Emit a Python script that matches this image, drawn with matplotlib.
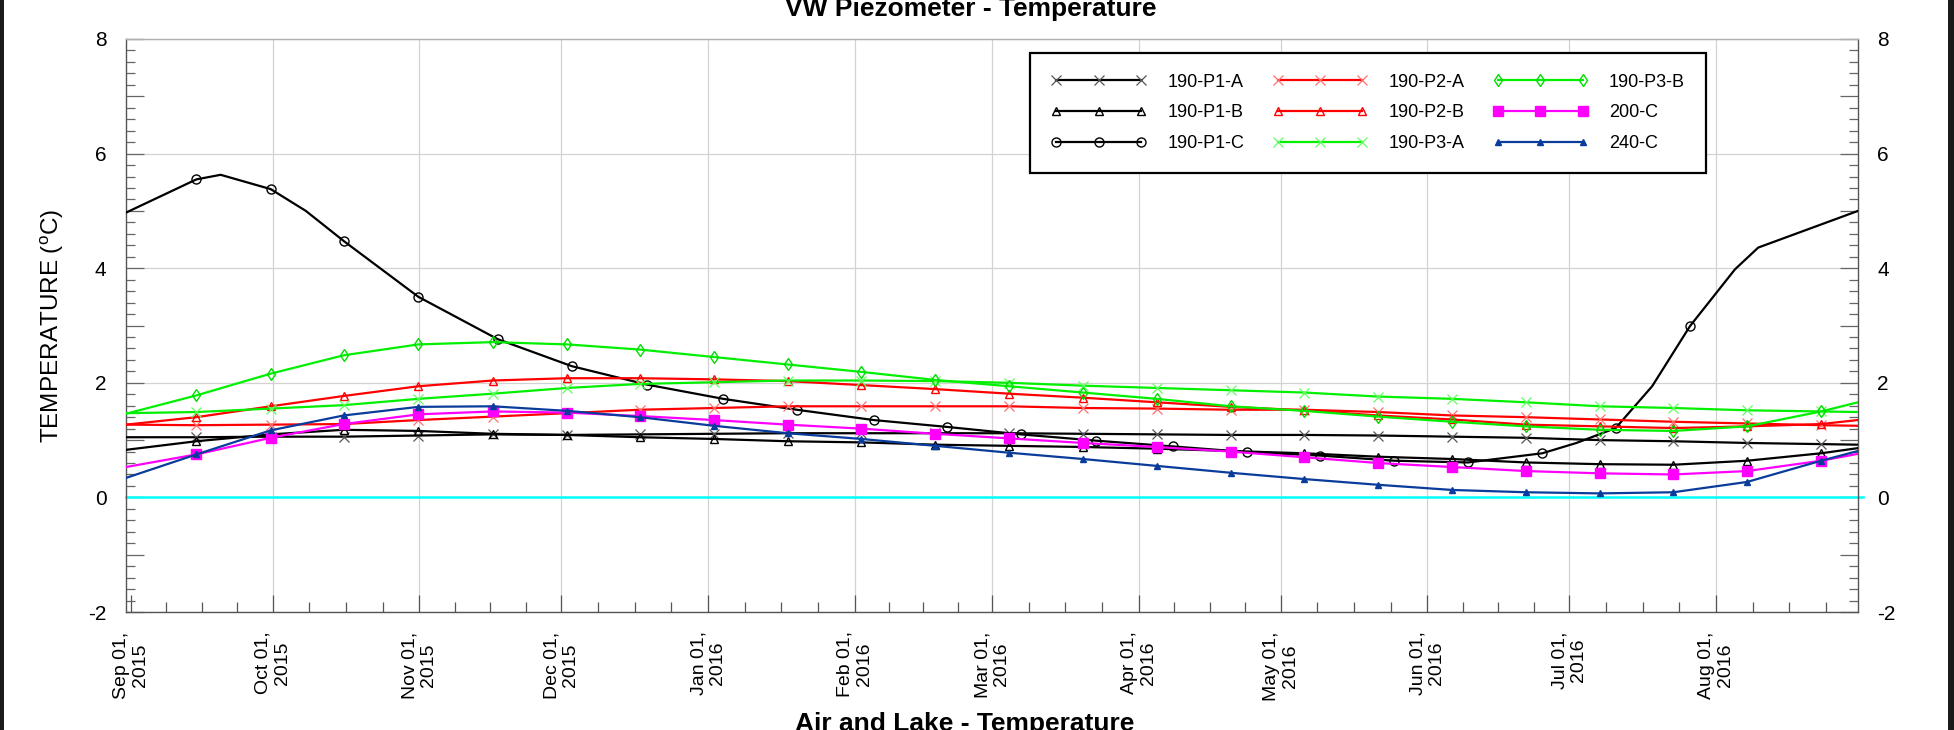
import matplotlib
matplotlib.use('Agg')
import matplotlib.pyplot as plt
import matplotlib.dates as mdates
import matplotlib.ticker as mticker
from matplotlib.patches import Rectangle
import numpy as np
import pandas as pd

plt.rcParams['font.family'] = ['Liberation Sans', 'DejaVu Sans']
plt.rcParams['mathtext.fontset'] = 'custom'
plt.rcParams['mathtext.rm'] = 'Liberation Sans'

# ---------------- data ----------------
start_date = '2015-08-31 00:00'
end_date = '2016-08-31 00:00'

marker_dates = ['2015-09-14 21:00', '2015-09-30 14:00', '2015-10-16 00:00', '2015-10-31 19:00',
                '2015-11-16 12:00', '2015-12-02 05:00', '2015-12-17 14:00', '2016-01-02 05:00',
                '2016-01-17 19:00', '2016-02-02 10:00', '2016-02-18 00:00', '2016-03-04 14:00',
                '2016-03-20 05:00', '2016-04-04 19:00', '2016-04-20 10:00', '2016-05-06 00:00',
                '2016-05-21 14:00', '2016-06-06 05:00', '2016-06-21 19:00', '2016-07-07 10:00',
                '2016-07-23 00:00', '2016-08-07 14:00', '2016-08-23 05:00']

# values: [start] + 23 marker values + [end]
p1a = [1.05, 1.05, 1.06, 1.06, 1.08, 1.10, 1.09, 1.10, 1.11, 1.12, 1.12, 1.12, 1.12, 1.11, 1.10,
       1.09, 1.09, 1.08, 1.06, 1.04, 1.00, 0.98, 0.95, 0.93, 0.92]
p1b = [0.83, 0.98, 1.10, 1.18, 1.16, 1.11, 1.09, 1.05, 1.02, 0.98, 0.96, 0.92, 0.90, 0.88, 0.85,
       0.81, 0.77, 0.71, 0.67, 0.61, 0.58, 0.57, 0.64, 0.77, 0.86]
p2a = [1.27, 1.26, 1.27, 1.28, 1.35, 1.41, 1.47, 1.53, 1.56, 1.59, 1.59, 1.59, 1.59, 1.56, 1.55,
       1.53, 1.53, 1.49, 1.43, 1.40, 1.36, 1.32, 1.29, 1.26, 1.25]
p2b = [1.27, 1.40, 1.59, 1.77, 1.94, 2.04, 2.08, 2.08, 2.06, 2.03, 1.96, 1.89, 1.81, 1.74, 1.66,
       1.58, 1.52, 1.43, 1.36, 1.27, 1.24, 1.21, 1.24, 1.28, 1.35]
p3a = [1.47, 1.49, 1.55, 1.61, 1.72, 1.81, 1.91, 1.98, 2.01, 2.04, 2.04, 2.03, 2.00, 1.95, 1.91,
       1.87, 1.83, 1.76, 1.72, 1.66, 1.59, 1.56, 1.52, 1.50, 1.49]
p3b = [1.46, 1.78, 2.16, 2.48, 2.67, 2.71, 2.67, 2.58, 2.45, 2.32, 2.19, 2.05, 1.94, 1.83, 1.72,
       1.59, 1.51, 1.41, 1.32, 1.24, 1.18, 1.16, 1.24, 1.50, 1.66]
c200 = [0.53, 0.75, 1.04, 1.28, 1.45, 1.50, 1.48, 1.42, 1.35, 1.27, 1.20, 1.11, 1.03, 0.95, 0.88,
        0.80, 0.70, 0.60, 0.53, 0.46, 0.42, 0.40, 0.46, 0.64, 0.76]
c240 = [0.34, 0.75, 1.17, 1.43, 1.58, 1.59, 1.51, 1.40, 1.25, 1.12, 1.02, 0.90, 0.78, 0.67, 0.55,
        0.43, 0.32, 0.22, 0.13, 0.09, 0.07, 0.09, 0.27, 0.64, 0.81]

# 190-P1-C: marker (circle) readings
p1c_marker_dates = ['2015-09-14 21:00', '2015-09-30 14:00', '2015-10-16 02:00', '2015-10-31 19:00',
                    '2015-11-17 14:00', '2015-12-03 05:00', '2015-12-19 00:00', '2016-01-04 05:00',
                    '2016-01-19 17:00', '2016-02-05 00:00', '2016-02-20 12:00', '2016-03-07 02:00',
                    '2016-03-23 00:00', '2016-04-08 05:00', '2016-04-23 22:00', '2016-05-09 07:00',
                    '2016-05-25 00:00', '2016-06-09 14:00', '2016-06-25 07:00', '2016-07-10 19:00',
                    '2016-07-26 12:00']
p1c_marker_vals = [5.55, 5.38, 4.47, 3.50, 2.76, 2.29, 1.97, 1.72, 1.53, 1.35, 1.23, 1.10, 0.99,
                   0.89, 0.79, 0.73, 0.64, 0.61, 0.77, 1.21, 2.99]
# 190-P1-C: extra curve readings (no marker)
p1c_curve_dates = ['2015-08-31 00:00', '2015-09-20 00:00', '2015-10-08 00:00', '2016-07-02 12:00',
                   '2016-07-18 12:00', '2016-08-05 00:00', '2016-08-09 22:00', '2016-08-31 00:00']
p1c_curve_vals = [4.97, 5.63, 5.00, 0.95, 1.94, 3.98, 4.36, 5.00]

zero_dates = ['2015-08-31 00:00', '2016-09-01 00:00']
zero_vals = [0.0, 0.0]

series = [
    ('190-P1-A', p1a, dict(color='#000000', marker='x', mec='#555555', mfc='none', ms=6.5, mew=0.9)),
    ('190-P1-B', p1b, dict(color='#000000', marker='^', mec='#000000', mfc='none', ms=6, mew=1.0)),
    ('190-P1-C', None, dict(color='#000000', marker='o', mec='#000000', mfc='none', ms=6.5, mew=1.0)),
    ('190-P2-A', p2a, dict(color='#ff0000', marker='x', mec='#ff7070', mfc='none', ms=6.5, mew=0.9)),
    ('190-P2-B', p2b, dict(color='#ff0000', marker='^', mec='#ff0000', mfc='none', ms=6, mew=1.0)),
    ('190-P3-A', p3a, dict(color='#00f000', marker='x', mec='#60ff60', mfc='none', ms=6.5, mew=0.9)),
    ('190-P3-B', p3b, dict(color='#00f000', marker='d', mec='#00dd00', mfc='none', ms=6, mew=1.0)),
    ('200-C', c200, dict(color='#ff00ff', marker='s', mec='#ff00ff', mfc='#ff00ff', ms=6.5, mew=1.0)),
    ('240-C', c240, dict(color='#0a3c9c', marker='^', mec='#0a3c9c', mfc='#0a3c9c', ms=5, mew=1.0)),
]


def to_dt(lst):
    return pd.to_datetime(lst, format='%Y-%m-%d %H:%M')


# ---------------- figure ----------------
fig = plt.figure(figsize=(19.54, 7.30), dpi=100)
ax = fig.add_axes([126 / 1954, 1 - 612 / 730, (1858 - 126) / 1954, (612 - 39) / 730])

common_x = to_dt([start_date] + marker_dates + [end_date])

# grid
for m in pd.date_range('2015-10-01', '2016-08-01', freq='MS'):
    ax.axvline(m, color='#d2d2d2', lw=0.9, zorder=0)
for yv in range(-2, 9, 2):
    ax.axhline(yv, color='#d2d2d2', lw=0.9, zorder=0)

ax.plot(to_dt(zero_dates), zero_vals, color='#00ffff', lw=1.8, zorder=2, clip_on=False)

handles = []
for name, vals, st in series:
    if vals is None:
        cd = to_dt(p1c_curve_dates + p1c_marker_dates)
        cv = np.array(p1c_curve_vals + p1c_marker_vals)
        order = np.argsort(cd.values)
        xs = cd[order]
        ys = cv[order]
        mk_set = set(to_dt(p1c_marker_dates))
        me = [i for i, d in enumerate(xs) if d in mk_set]
        ln, = ax.plot(xs, ys, lw=1.6, markevery=me, label=name, zorder=3, **st)
    else:
        ln, = ax.plot(common_x, vals, lw=1.6, markevery=list(range(1, len(vals) - 1)),
                      label=name, zorder=3, **st)
    handles.append(ln)

ax.set_xlim(pd.Timestamp(start_date), pd.Timestamp(end_date))
ax.set_ylim(-2, 8)

# x ticks
ax.xaxis.set_major_locator(mdates.MonthLocator())
ax.xaxis.set_major_formatter(mticker.FuncFormatter(
    lambda v, p: mdates.num2date(v).strftime('%b %d,\n%Y')))
minor_pos = []
for m in pd.date_range('2015-09-01', '2016-08-01', freq='MS'):
    nd = m.days_in_month
    for k in range(1, 4):
        minor_pos.append(mdates.date2num(m + pd.Timedelta(days=nd * k / 4)))
ax.xaxis.set_minor_locator(mticker.FixedLocator(minor_pos))
ax.tick_params(axis='x', which='major', direction='in', length=12, width=0.9, color='#555555',
               labelsize=14, pad=14, top=False, bottom=True, labelrotation=90)
ax.tick_params(axis='x', which='minor', direction='in', length=7, width=0.9, color='#555555',
               top=False, bottom=True)

# y ticks
ax.yaxis.set_major_locator(mticker.MultipleLocator(1))
ax.yaxis.set_minor_locator(mticker.MultipleLocator(0.2))
ax.yaxis.set_major_formatter(mticker.FuncFormatter(
    lambda v, p: f'{int(round(v))}' if int(round(v)) % 2 == 0 else ''))
ax.tick_params(axis='y', which='major', direction='in', length=13, width=0.9, color='#666666',
               labelsize=15, pad=14, left=True, right=True, labelleft=True, labelright=True)
ax.tick_params(axis='y', which='minor', direction='in', length=6.5, width=0.9, color='#666666',
               left=True, right=True)

for s in ['left', 'right', 'bottom']:
    ax.spines[s].set_color('#555555')
    ax.spines[s].set_linewidth(1.0)
ax.spines['top'].set_color('#b0b0b0')
ax.spines['top'].set_linewidth(1.0)

ax.set_ylabel('TEMPERATURE ($\\mathregular{^o}$C)', fontsize=17.5, labelpad=16)

leg = ax.legend(handles=handles, ncol=3, loc='upper left',
                bbox_to_anchor=((1030 - 126) / 1732, (612 - 53) / 573),
                fontsize=13, numpoints=3, handlelength=5.3, handletextpad=1.15,
                columnspacing=1.55, labelspacing=0.75, borderpad=1.15,
                fancybox=False, frameon=True, borderaxespad=0, framealpha=1)
leg.get_frame().set_edgecolor('#000000')
leg.get_frame().set_linewidth(1.6)
leg.set_zorder(5)

fig.canvas.draw()
for lab in ax.get_xticklabels():
    lab.set_multialignment('center')
    lab.set_linespacing(1.15)

fig.text(971 / 1954, 1 - 16 / 730, 'VW Piezometer - Temperature', ha='center', va='baseline',
         fontsize=19, fontweight='bold')
fig.text(964.5 / 1954, -0.001, 'Air and Lake - Temperature', ha='center', va='baseline',
         fontsize=19, fontweight='bold')

fig.patches.append(Rectangle((0, 0), 4 / 1954, 1, transform=fig.transFigure,
                             facecolor='#1a1a1a', edgecolor='none'))
fig.patches.append(Rectangle((1 - 6 / 1954, 0), 6 / 1954, 1, transform=fig.transFigure,
                             facecolor='#1a1a1a', edgecolor='none'))

fig.savefig('out.png', dpi=100)
